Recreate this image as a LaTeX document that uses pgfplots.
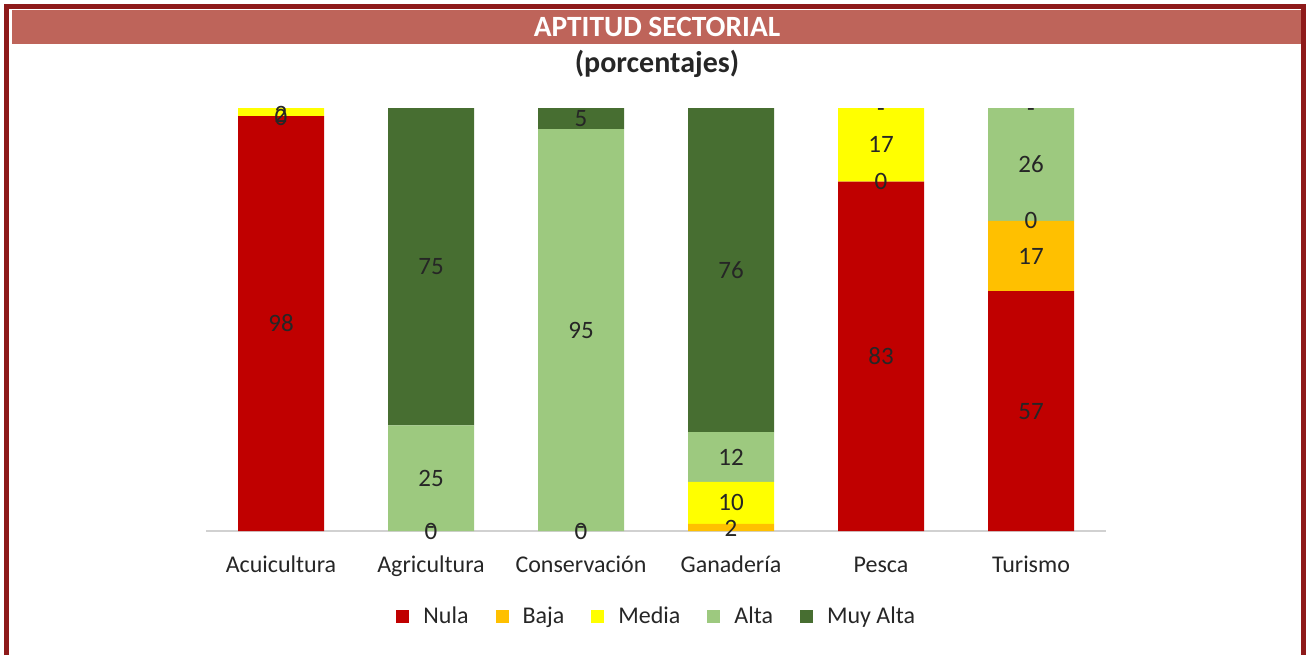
\documentclass[border=0pt]{standalone}
\usepackage{pgfplots}
\usepackage{pgfplotstable}
\pgfplotsset{compat=1.18}
\usepackage{fontspec}
\setmainfont{Carlito}
\definecolor{nula}{HTML}{C00000}
\definecolor{baja}{HTML}{FFC000}
\definecolor{media}{HTML}{FFFF00}
\definecolor{alta}{HTML}{9DC97F}
\definecolor{muyalta}{HTML}{476E31}
\definecolor{titlebg}{HTML}{BE645A}
\definecolor{border}{HTML}{8E1A1A}
\definecolor{txt}{HTML}{262626}
\pgfplotstableread{
x nula baja media alta muyalta
0 98.1 0 1.9 0 0
1 0 0 0 25 75
2 0 0 0 95 5
3 0 1.7 9.9 11.8 76.6
4 82.6 0 17.4 0 0
5 56.7 16.6 0 26.7 0
}\datatable
\pgfplotstableread{
x y lab
0 49.05 98
0 97.8 0
0 98.6 2
1 0 0
1 0 -
1 12.5 25
1 62.5 75
2 0 0
2 0 -
2 47.5 95
2 97.5 5
3 0.6 2
3 6.65 10
3 17.5 12
3 61.7 76
4 41.3 83
4 82.6 0
4 91.3 17
4 98.9 -
5 28.35 57
5 65 17
5 73.3 0
5 86.65 26
5 98.9 -
}\labtable
\begin{document}
\begin{tikzpicture}[x=1pt,y=1pt]
\useasboundingbox (0,0) rectangle (654,327.5);
\fill[titlebg] (6,305.5) rectangle (650.5,322.5);
\draw[border, line width=2.5pt] (3,0) -- (3,324.25) -- (651.5,324.25) -- (651.5,0);
\node[white, font=\bfseries\fontsize{14.7}{17}\selectfont] at (328.5,314) {APTITUD SECTORIAL};
\node[txt, font=\bfseries\fontsize{15}{17}\selectfont] at (328.5,295.5) {(porcentajes)};
\begin{axis}[
  at={(103pt,62pt)}, anchor=south west,
  width=450pt, height=211.5pt, scale only axis,
  ybar stacked, bar width=43pt,
  xmin=-0.5, xmax=5.5, ymin=0, ymax=100,
  enlargelimits=false, clip=false,
  axis y line=none, axis x line*=bottom,
  x axis line style={draw=black!18, line width=0.8pt, -},
  xtick={0,...,5},
  xticklabels={Acuicultura,Agricultura,Conservación,Ganadería,Pesca,Turismo},
  major tick length=0pt,
  xticklabel style={anchor=base, yshift=-20.5pt, font=\fontsize{12}{14}\selectfont, text=txt},
  legend columns=5,
  legend style={at={(0.502,-0.2033)}, anchor=center, draw=none, fill=none,
    font=\fontsize{12}{14}\selectfont, text=txt,
    /tikz/every odd column/.append style={column sep=5pt},
    /tikz/every even column/.append style={column sep=11.5pt}},
  legend image code/.code={\fill[#1, draw=none] (0pt,-3.2pt) rectangle (6.5pt,3.3pt);},
]
\addplot[fill=nula, draw=none] table[x=x, y=nula] {\datatable};
\addplot[fill=baja, draw=none] table[x=x, y=baja] {\datatable};
\addplot[fill=media, draw=none] table[x=x, y=media] {\datatable};
\addplot[fill=alta, draw=none] table[x=x, y=alta] {\datatable};
\addplot[fill=muyalta, draw=none] table[x=x, y=muyalta] {\datatable};
\legend{Nula,Baja,Media,Alta,Muy Alta}
\end{axis}
\begin{axis}[
  at={(103pt,62pt)}, anchor=south west,
  width=450pt, height=211.5pt, scale only axis,
  xmin=-0.5, xmax=5.5, ymin=0, ymax=100,
  enlargelimits=false, clip=false, hide axis,
]
\addplot[draw=none, mark=none, nodes near coords, point meta=explicit symbolic,
  every node near coord/.append style={anchor=center, text=txt, font=\fontsize{12.5}{14}\selectfont}]
  table[x=x, y=y, meta=lab] {\labtable};
\end{axis}
\end{tikzpicture}
\end{document}
